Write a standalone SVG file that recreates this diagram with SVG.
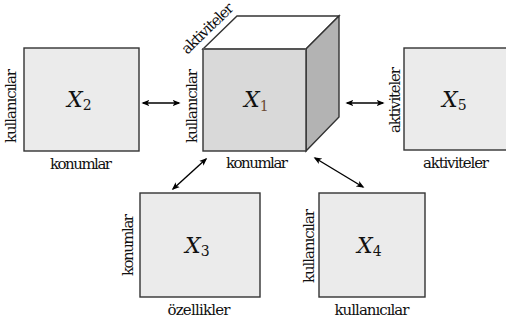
<svg xmlns="http://www.w3.org/2000/svg" width="506" height="325" viewBox="0 0 506 325">
<defs>
<style>
.box{fill:#ebebeb;stroke:#333;stroke-width:1.4}
text{font-family:'DejaVu Serif',serif;fill:#111}
.lbl{font-size:15px}
.mx{font-size:22px;font-style:italic}
.sub{font-size:14px;font-style:normal}
.arr{stroke:#000;stroke-width:1.4;fill:none;marker-start:url(#ah);marker-end:url(#ah)}
</style>
<marker id="ah" viewBox="0 0 10 10" refX="8" refY="5" markerWidth="8" markerHeight="8" orient="auto-start-reverse" markerUnits="userSpaceOnUse">
<path d="M0,1 L10,5 L0,9 L2.5,5 Z" fill="#000"/>
</marker>
</defs>
<rect width="506" height="325" fill="#fff"/>
<g id="X2">
<rect class="box" x="24" y="48" width="115" height="103"/>
<text class="mx" x="67" y="107">X<tspan class="sub" dy="3">2</tspan></text>
<text class="lbl" text-anchor="middle" textLength="74" transform="translate(16,106) rotate(-90)">kullanıcılar</text>
<text class="lbl" text-anchor="middle" textLength="62" x="81" y="169">konumlar</text>
</g>
<g id="X1">
<polygon points="203,49 237,16 339,16 306,49" fill="#fff" stroke="#333" stroke-width="1.4"/>
<polygon points="306,49 339,16 339,117 306,151" fill="#b3b3b3" stroke="#333" stroke-width="1.4"/>
<rect x="203" y="49" width="103" height="102" fill="#d9d9d9" stroke="#333" stroke-width="1.4"/>
<line x1="203" y1="49" x2="306" y2="49" stroke="#555" stroke-width="2"/>
<text class="mx" x="244" y="107">X<tspan class="sub" dy="4" fill="#6b4a35">1</tspan></text>
<text class="lbl" text-anchor="middle" textLength="74" transform="translate(197,106) rotate(-90)">kullanıcılar</text>
<text class="lbl" text-anchor="middle" textLength="62" x="257" y="168">konumlar</text>
<text class="lbl" text-anchor="middle" textLength="66" transform="translate(211,32) rotate(-44)">aktiviteler</text>
</g>
<g id="X5">
<rect class="box" x="404" y="48" width="104" height="102"/>
<text class="mx" x="442" y="107">X<tspan class="sub" dy="3">5</tspan></text>
<text class="lbl" text-anchor="middle" textLength="66" transform="translate(400,100) rotate(-90)">aktiviteler</text>
<text class="lbl" text-anchor="middle" textLength="66" x="456" y="168">aktiviteler</text>
</g>
<g id="X3">
<rect class="box" x="140" y="193" width="120" height="104"/>
<text class="mx" x="185" y="253">X<tspan class="sub" dy="3">3</tspan></text>
<text class="lbl" text-anchor="middle" textLength="62" transform="translate(133,245) rotate(-90)">konumlar</text>
<text class="lbl" text-anchor="middle" textLength="63" x="199" y="315">özellikler</text>
</g>
<g id="X4">
<rect class="box" x="319" y="193" width="106" height="104"/>
<text class="mx" x="357" y="253">X<tspan class="sub" dy="3">4</tspan></text>
<text class="lbl" text-anchor="middle" textLength="74" transform="translate(314,246) rotate(-90)">kullanıcılar</text>
<text class="lbl" text-anchor="middle" textLength="75" x="372" y="315">kullanıcılar</text>
</g>
<g id="connectors">
<line class="arr" x1="143" y1="103" x2="179" y2="103"/>
<line class="arr" x1="347" y1="103" x2="383" y2="103"/>
<line class="arr" x1="173" y1="189" x2="206" y2="159"/>
<line class="arr" x1="315" y1="158" x2="363" y2="187"/>
</g>
</svg>
